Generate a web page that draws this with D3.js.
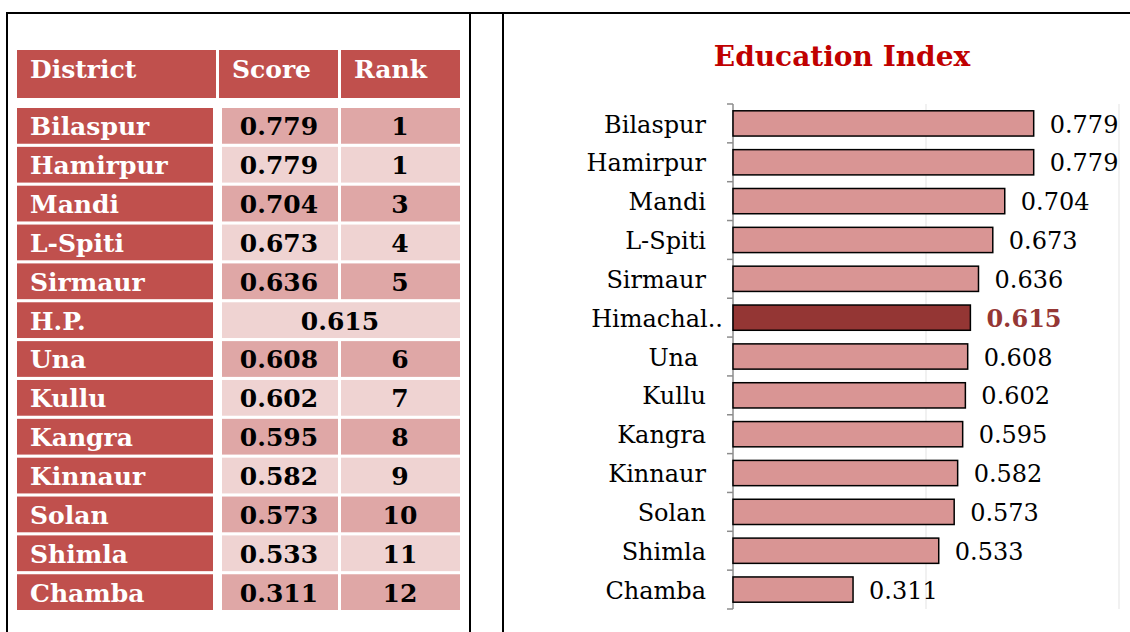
<!DOCTYPE html>
<html lang="en">
<head>
<meta charset="UTF-8">
<script src="https://d3js.org/d3.v7.min.js"></script>
<title>Education Index</title>
<style>
  html,body{margin:0;padding:0;background:#fff;}
  svg text{font-family:'DejaVu Serif',serif;}
</style>
</head>
<body>
<div id="chart"></div>
<script>
// table data
var districts = ["Bilaspur","Hamirpur","Mandi","L-Spiti","Sirmaur","H.P.","Una","Kullu","Kangra","Kinnaur","Solan","Shimla","Chamba"];
var scores = [0.779,0.779,0.704,0.673,0.636,0.615,0.608,0.602,0.595,0.582,0.573,0.533,0.311];
var ranks = [1,1,3,4,5,null,6,7,8,9,10,11,12];
var headers = ["District","Score","Rank"];

// bar chart data
var barLabels = ["Bilaspur","Hamirpur","Mandi","L-Spiti","Sirmaur","Himachal..","Una\u00a0","Kullu","Kangra","Kinnaur","Solan","Shimla","Chamba"];
var barValues = [0.779,0.779,0.704,0.673,0.636,0.615,0.608,0.602,0.595,0.582,0.573,0.533,0.311];
var stateLabel = "Himachal..";

var width = 1130, height = 632;
var svg = d3.select("#chart").append("svg")
  .attr("width", width)
  .attr("height", height);

// frame lines
var frame = svg.append("g").attr("stroke", "#000").attr("stroke-width", 2);
frame.append("line").attr("x1", 7).attr("x2", 1130).attr("y1", 13).attr("y2", 13);
[7, 470, 503].forEach(function(x){
  frame.append("line").attr("x1", x).attr("x2", x).attr("y1", 12).attr("y2", 632);
});

// ---- table ----
var dark = "#C0504D", mid = "#DFA7A6", light = "#EFD3D2";
var cols = [{x0:17, x1:216}, {x0:219, x1:338}, {x0:341, x1:460}];

var head = svg.append("g");
head.selectAll("rect").data(headers).enter().append("rect")
  .attr("x", function(d,i){ return cols[i].x0; })
  .attr("width", function(d,i){ return cols[i].x1 - cols[i].x0; })
  .attr("y", 50).attr("height", 48)
  .attr("fill", dark);
head.selectAll("text").data(headers).enter().append("text")
  .attr("x", function(d,i){ return cols[i].x0 + 13; })
  .attr("y", 78)
  .attr("fill", "#fff")
  .attr("font-weight", "bold")
  .attr("font-size", 25)
  .text(function(d){ return d; });

var row = d3.scaleBand().domain(districts).range([108, 610]).paddingInner(0.08);

var rows = svg.append("g").selectAll("g")
  .data(districts.map(function(d,i){ return {name:d, score:scores[i], rank:ranks[i], i:i}; }))
  .enter().append("g")
  .attr("transform", function(d){ return "translate(0," + row(d.name) + ")"; });

var bh = row.bandwidth();
rows.append("rect").attr("x", 17).attr("width", 196).attr("height", bh).attr("fill", dark);
rows.append("text")
  .attr("x", 30).attr("y", bh/2).attr("dy", "0.38em")
  .attr("fill", "#fff").attr("font-weight", "bold").attr("font-size", 25)
  .text(function(d){ return d.name; });

rows.each(function(d){
  var g = d3.select(this);
  var fill = d.i % 2 === 0 ? mid : light;
  if (d.rank === null) {
    g.append("rect").attr("x", 222).attr("width", 238).attr("height", bh).attr("fill", fill);
    g.append("text").attr("x", 340).attr("y", bh/2).attr("dy", "0.38em")
      .attr("text-anchor", "middle").attr("font-weight", "bold").attr("font-size", 25)
      .text(d3.format(".3f")(d.score));
  } else {
    g.append("rect").attr("x", 222).attr("width", 116).attr("height", bh).attr("fill", fill);
    g.append("rect").attr("x", 341).attr("width", 119).attr("height", bh).attr("fill", fill);
    g.append("text").attr("x", 279).attr("y", bh/2).attr("dy", "0.38em")
      .attr("text-anchor", "middle").attr("font-weight", "bold").attr("font-size", 25)
      .text(d3.format(".3f")(d.score));
    g.append("text").attr("x", 400).attr("y", bh/2).attr("dy", "0.38em")
      .attr("text-anchor", "middle").attr("font-weight", "bold").attr("font-size", 25)
      .text(d.rank);
  }
});

// ---- bar chart ----
svg.append("text")
  .attr("x", 842).attr("y", 66)
  .attr("text-anchor", "middle")
  .attr("fill", "#C00000")
  .attr("font-weight", "bold")
  .attr("font-size", 28)
  .text("Education Index");

var x = d3.scaleLinear().domain([0, 1]).range([733, 1119]);
var y = d3.scaleBand().domain(barLabels).range([104, 609])
  .paddingInner(0.35).paddingOuter(0.175);
var gap = y.step() * y.paddingInner() / 2;
var top0 = y(barLabels[0]) - gap;

svg.append("g").selectAll("line").data([0.5, 1]).enter().append("line")
  .attr("x1", function(d){ return x(d); }).attr("x2", function(d){ return x(d); })
  .attr("y1", 104).attr("y2", 609)
  .attr("stroke", "#E3E3E3").attr("stroke-width", 1);

// axis with ticks between categories
var ax = svg.append("g").attr("stroke", "#8C8C8C").attr("stroke-width", 1.5);
ax.append("line").attr("x1", x(0)).attr("x2", x(0)).attr("y1", y.range()[0]).attr("y2", y.range()[1]);
ax.selectAll(".tk").data(d3.range(barLabels.length + 1)).enter().append("line")
  .attr("class", "tk")
  .attr("x1", x(0) - 6).attr("x2", x(0))
  .attr("y1", function(i){ return top0 + i * y.step(); })
  .attr("y2", function(i){ return top0 + i * y.step(); });

var bars = svg.append("g").selectAll("g")
  .data(barLabels.map(function(d,i){ return {label:d, value:barValues[i]}; }))
  .enter().append("g");

bars.append("rect")
  .attr("x", x(0))
  .attr("y", function(d){ return y(d.label); })
  .attr("width", function(d){ return x(d.value) - x(0); })
  .attr("height", y.bandwidth())
  .attr("fill", function(d){ return d.label === stateLabel ? "#943634" : "#D99594"; })
  .attr("stroke", "#000").attr("stroke-width", 1.5);

bars.append("text")
  .attr("x", function(d){ return d.label === stateLabel ? 723 : 706; })
  .attr("y", function(d){ return y(d.label) + y.bandwidth()/2; })
  .attr("dy", "0.38em")
  .attr("text-anchor", "end")
  .attr("font-size", 24)
  .style("white-space", "pre")
  .text(function(d){ return d.label; });

bars.append("text")
  .attr("x", function(d){ return x(d.value) + 16; })
  .attr("y", function(d){ return y(d.label) + y.bandwidth()/2; })
  .attr("dy", "0.38em")
  .attr("font-size", 24)
  .attr("font-weight", function(d){ return d.label === stateLabel ? "bold" : "normal"; })
  .attr("fill", function(d){ return d.label === stateLabel ? "#953735" : "#000"; })
  .text(function(d){ return d3.format(".3f")(d.value); });
</script>
</body>
</html>
